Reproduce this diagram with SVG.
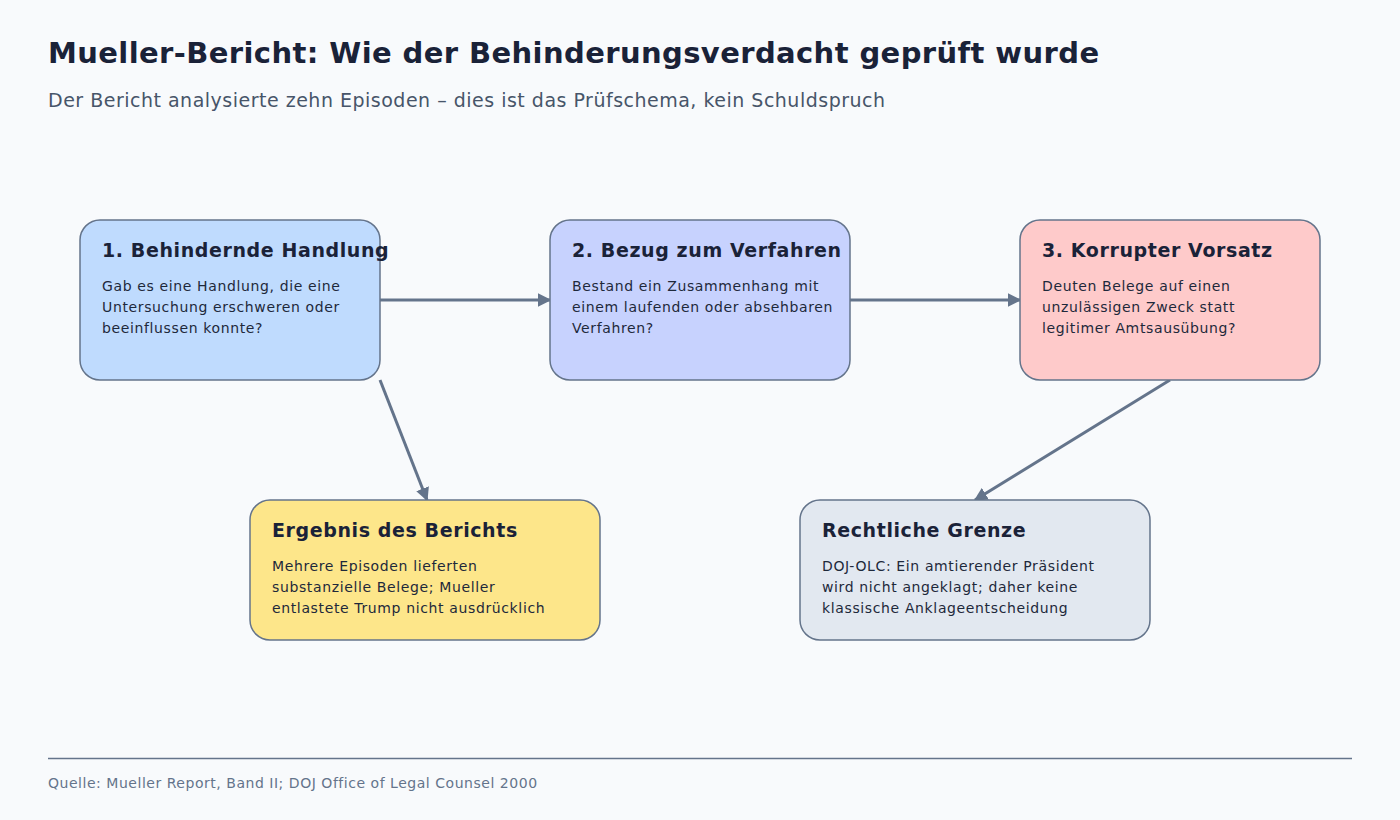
<svg xmlns="http://www.w3.org/2000/svg" width="1400" height="820" viewBox="0 0 1400 820">
<style>
text{font-family:"DejaVu Sans",sans-serif;fill:#1e293b}
.t{font-size:19px;font-weight:bold;fill:#1a2238;letter-spacing:0.6px}
.b{font-size:14px;letter-spacing:0.63px}
.box{stroke:#64748b;stroke-width:1.5}
.c{stroke:#64748b;stroke-width:3;fill:none;marker-end:url(#a)}
</style>
<defs><marker id="a" viewBox="0 0 10 10" refX="9" refY="5" markerWidth="4.5" markerHeight="4.5" orient="auto"><path d="M0,0L10,5L0,10z" fill="#64748b"/></marker></defs>
<rect width="1400" height="820" fill="#f8fafc"/>
<text x="48" y="63" style="font-size:29px;font-weight:bold;fill:#1a2238;letter-spacing:0.4px">Mueller-Bericht: Wie der Behinderungsverdacht geprüft wurde</text>
<text x="48" y="107" style="font-size:19px;fill:#475569;letter-spacing:0.5px">Der Bericht analysierte zehn Episoden – dies ist das Prüfschema, kein Schuldspruch</text>
<g id="connectors">
<path class="c" d="M380,300H550"/>
<path class="c" d="M850,300H1020"/>
<path class="c" d="M380,380L427,500"/>
<path class="c" d="M1170,380L975,500"/>
</g>
<g id="n1"><rect class="box" x="80" y="220" width="300" height="160" rx="20" fill="#bfdbfe"/>
<text class="t" x="102" y="257">1. Behindernde Handlung</text>
<text class="b" x="102" y="291">Gab es eine Handlung, die eine</text><text class="b" x="102" y="312">Untersuchung erschweren oder</text><text class="b" x="102" y="333">beeinflussen konnte?</text></g>
<g id="n2"><rect class="box" x="550" y="220" width="300" height="160" rx="20" fill="#c7d2fe"/>
<text class="t" x="572" y="257">2. Bezug zum Verfahren</text>
<text class="b" x="572" y="291">Bestand ein Zusammenhang mit</text><text class="b" x="572" y="312">einem laufenden oder absehbaren</text><text class="b" x="572" y="333">Verfahren?</text></g>
<g id="n3"><rect class="box" x="1020" y="220" width="300" height="160" rx="20" fill="#fecaca"/>
<text class="t" x="1042" y="257">3. Korrupter Vorsatz</text>
<text class="b" x="1042" y="291">Deuten Belege auf einen</text><text class="b" x="1042" y="312">unzulässigen Zweck statt</text><text class="b" x="1042" y="333">legitimer Amtsausübung?</text></g>
<g id="n4"><rect class="box" x="250" y="500" width="350" height="140" rx="20" fill="#fde68a"/>
<text class="t" x="272" y="537">Ergebnis des Berichts</text>
<text class="b" x="272" y="571">Mehrere Episoden lieferten</text><text class="b" x="272" y="592">substanzielle Belege; Mueller</text><text class="b" x="272" y="613">entlastete Trump nicht ausdrücklich</text></g>
<g id="n5"><rect class="box" x="800" y="500" width="350" height="140" rx="20" fill="#e2e8f0"/>
<text class="t" x="822" y="537">Rechtliche Grenze</text>
<text class="b" x="822" y="571">DOJ-OLC: Ein amtierender Präsident</text><text class="b" x="822" y="592">wird nicht angeklagt; daher keine</text><text class="b" x="822" y="613">klassische Anklageentscheidung</text></g>
<path d="M48,758.5H1352" stroke="#64748b" stroke-width="1.5"/>
<text x="48" y="788" style="font-size:14px;fill:#64748b;letter-spacing:0.53px">Quelle: Mueller Report, Band II; DOJ Office of Legal Counsel 2000</text>
</svg>
